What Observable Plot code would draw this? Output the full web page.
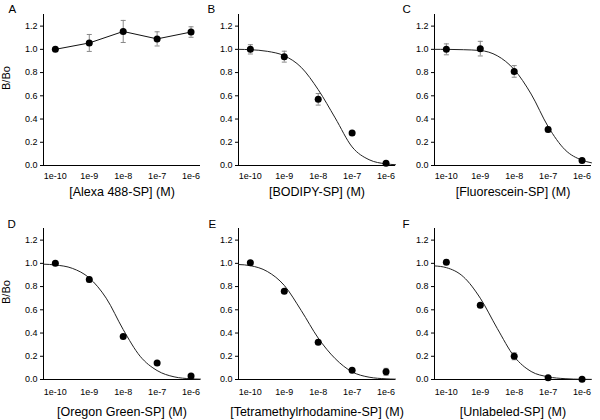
<!DOCTYPE html>
<html>
<head>
<meta charset="utf-8">
<script src="https://cdn.jsdelivr.net/npm/d3@7"></script>
<script src="https://cdn.jsdelivr.net/npm/@observablehq/plot@0.6"></script>
<style>
  html, body { margin: 0; padding: 0; background: white; }
  #chart { position: relative; width: 600px; height: 420px; background: white; font-family: "Liberation Sans", Arial, sans-serif; }
  #chart svg { position: absolute; overflow: visible; }
</style>
</head>
<body>
<div id="chart"></div>
<script>
// ---- data ----
const concentrations = [1e-10, 1e-9, 1e-8, 1e-7, 1e-6];
const xTickLabels = ["1e-10", "1e-9", "1e-8", "1e-7", "1e-6"];
const yTicks = [0, 0.2, 0.4, 0.6, 0.8, 1.0, 1.2];
const curveConc = [4.47e-11, 1e-10, 3.16e-10, 1e-9, 3.16e-9, 1e-8, 3.16e-8, 1e-7, 3.16e-7, 1e-6, 1.9e-6];

const panelLetters = ["A", "B", "C", "D", "E", "F"];
const panelTitles = ["[Alexa 488-SP] (M)", "[BODIPY-SP] (M)", "[Fluorescein-SP] (M)",
                     "[Oregon Green-SP] (M)", "[Tetramethylrhodamine-SP] (M)", "[Unlabeled-SP] (M)"];

const meanA = [1.00, 1.055, 1.154, 1.09, 1.149];
const errA  = [0, 0.073, 0.095, 0.061, 0.045];
const meanB = [1.00, 0.937, 0.57, 0.28, 0.02];
const errB  = [0.04, 0.047, 0.05, 0.015, 0.01];
const meanC = [1.00, 1.006, 0.81, 0.31, 0.043];
const errC  = [0.047, 0.063, 0.05, 0.02, 0.01];
const meanD = [1.00, 0.86, 0.37, 0.143, 0.03];
const errD  = [0.01, 0.02, 0.01, 0.01, 0.01];
const meanE = [1.005, 0.76, 0.32, 0.08, 0.066];
const errE  = [0.015, 0.015, 0.01, 0.01, 0.03];
const meanF = [1.01, 0.64, 0.20, 0.014, 0.003];
const errF  = [0.02, 0.015, 0.03, 0.01, 0.005];

const fitB = [1.0, 0.997, 0.983, 0.945, 0.845, 0.653, 0.41, 0.16, 0.05, 0.014, 0.007];
const fitC = [1.0, 1.0, 0.997, 0.99, 0.945, 0.826, 0.615, 0.335, 0.135, 0.046, 0.023];
const fitD = [0.993, 0.986, 0.957, 0.874, 0.70, 0.43, 0.20, 0.077, 0.023, 0.006, 0.003];
const fitE = [0.99, 0.98, 0.93, 0.81, 0.594, 0.357, 0.18, 0.066, 0.02, 0.006, 0.003];
const fitF = [0.978, 0.963, 0.885, 0.70, 0.44, 0.198, 0.069, 0.023, 0.007, 0.002, 0.001];

const yTitle = "B/Bo";

// ---- layout ----
const xDomain = [4.47e-11, 1.9e-6];
const panels = [
  {mean: meanA, err: errA, fit: null, left: 0,   top: 0,   letterDx: -35, letterDy: -10, tickPad: 7, titleDy: 26, yTitle: true},
  {mean: meanB, err: errB, fit: fitB, left: 195, top: 0,   letterDx: -31, letterDy: -10, tickPad: 7, titleDy: 26, yTitle: false},
  {mean: meanC, err: errC, fit: fitC, left: 391, top: 0,   letterDx: -32, letterDy: -10, tickPad: 7, titleDy: 26, yTitle: false},
  {mean: meanD, err: errD, fit: fitD, left: 0,   top: 214, letterDx: -36, letterDy: -9,  tickPad: 9, titleDy: 32, yTitle: true},
  {mean: meanE, err: errE, fit: fitE, left: 195, top: 214, letterDx: -30, letterDy: -9,  tickPad: 9, titleDy: 32, yTitle: false},
  {mean: meanF, err: errF, fit: fitF, left: 391, top: 214, letterDx: -32, letterDy: -9,  tickPad: 9, titleDy: 32, yTitle: false}
];

const capSymbol = {
  draw(context) { context.moveTo(-2.5, 0); context.lineTo(2.5, 0); }
};

const chart = document.getElementById("chart");

panels.forEach((p, i) => {
  const pts = concentrations.map((c, j) => ({c, y: p.mean[j], e: p.err[j]}));
  const bars = pts.filter(d => d.e > 0);
  const marks = [
    Plot.ruleY([0], {stroke: "black", strokeWidth: 1}),
    Plot.ruleX([xDomain[0]], {stroke: "black", strokeWidth: 1}),
    Plot.axisY({ticks: yTicks, tickSize: 3, tickPadding: 3, tickFormat: d3.format(".1f"), label: null, fontSize: 9, stroke: "black"}),
    Plot.axisX({ticks: concentrations, tickSize: 0, tickPadding: p.tickPad, tickFormat: d => xTickLabels[concentrations.indexOf(d)], label: null, fontSize: 9}),
    Plot.ruleX(bars, {x: "c", y1: d => d.y - d.e, y2: d => d.y + d.e, stroke: "#888", strokeWidth: 1}),
    Plot.dot(bars, {x: "c", y: d => d.y - d.e, symbol: capSymbol, stroke: "#888", strokeWidth: 1}),
    Plot.dot(bars, {x: "c", y: d => d.y + d.e, symbol: capSymbol, stroke: "#888", strokeWidth: 1})
  ];
  if (p.fit) {
    const fitPts = curveConc.map((c, j) => ({c, y: p.fit[j]}));
    marks.push(Plot.line(fitPts, {x: "c", y: "y", curve: "monotone-x", stroke: "#222", strokeWidth: 1}));
  } else {
    marks.push(Plot.line(pts, {x: "c", y: "y", stroke: "#111", strokeWidth: 1}));
  }
  marks.push(Plot.dot(pts, {x: "c", y: "y", r: 3.5, fill: "black", stroke: "none"}));
  marks.push(Plot.text([panelTitles[i]], {text: d => d, frameAnchor: "bottom", lineAnchor: "middle", dy: p.titleDy, fontSize: 12.5, fill: "black"}));
  marks.push(Plot.text([panelLetters[i]], {text: d => d, frameAnchor: "top-left", dx: p.letterDx, dy: p.letterDy, fontSize: 11.5, fill: "black"}));
  if (p.yTitle) {
    marks.push(Plot.text([yTitle], {text: d => d, frameAnchor: "left", dx: -37, rotate: -90, fontSize: 11, fill: "black"}));
  }
  const svg = Plot.plot({
    width: 200,
    height: 205,
    marginLeft: 43,
    marginRight: 0,
    marginTop: 14,
    marginBottom: 40,
    x: {type: "log", domain: xDomain},
    y: {domain: [0, 1.3]},
    style: {background: "transparent", fontFamily: "'Liberation Sans', Arial, sans-serif", fontSize: "9px", color: "black", overflow: "visible"},
    marks
  });
  svg.style.left = p.left + "px";
  svg.style.top = p.top + "px";
  chart.appendChild(svg);
});
</script>
</body>
</html>
